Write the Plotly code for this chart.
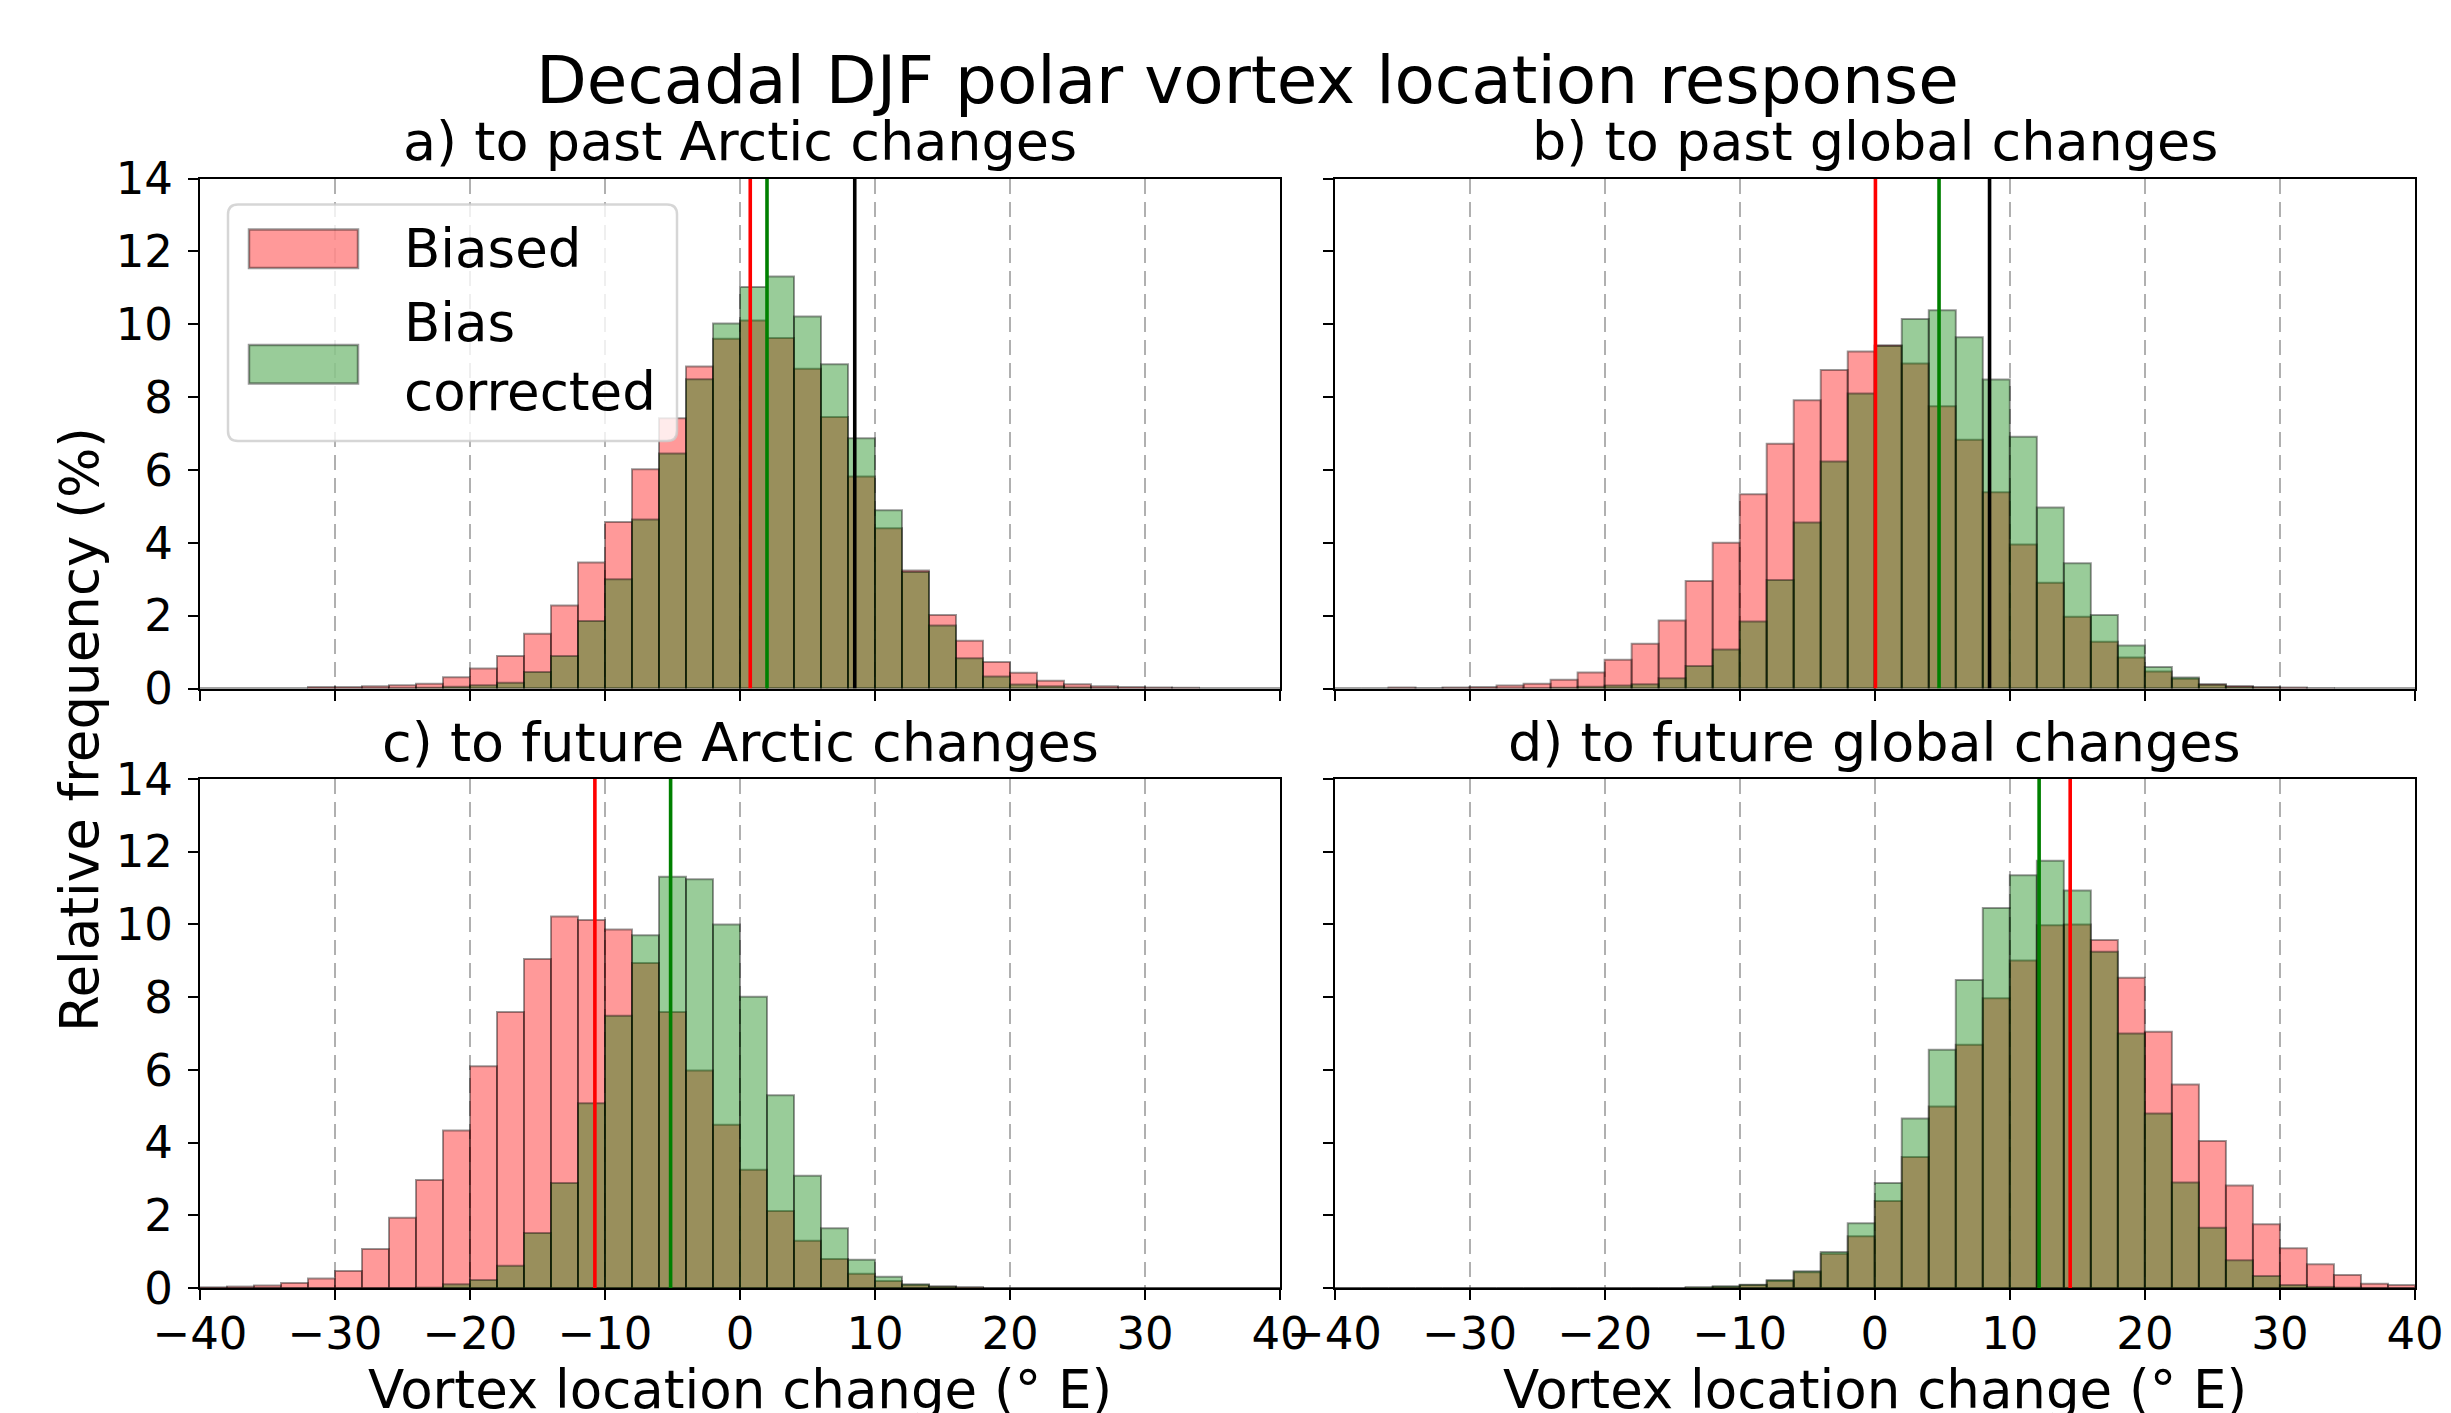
import plotly.graph_objects as go

# ---------------- data ----------------
bin_left = [-40, -38, -36, -34, -32, -30, -28, -26, -24, -22, -20, -18, -16, -14, -12, -10, -8, -6, -4, -2,
            0, 2, 4, 6, 8, 10, 12, 14, 16, 18, 20, 22, 24, 26, 28, 30, 32, 34, 36, 38]
bin_width = 2

a_biased = [0, 0, 0, 0, 0.04, 0.04, 0.06, 0.09, 0.13, 0.31, 0.55, 0.89, 1.50, 2.28, 3.46, 4.57, 6.02, 7.42, 8.84, 9.60,
            10.10, 9.62, 8.78, 7.45, 5.82, 4.40, 3.24, 2.02, 1.31, 0.73, 0.43, 0.21, 0.12, 0.06, 0.04, 0.03, 0.02, 0, 0, 0]
a_corrected = [0, 0, 0, 0, 0, 0, 0, 0.01, 0.02, 0.05, 0.09, 0.16, 0.45, 0.89, 1.85, 3.00, 4.64, 6.45, 8.49, 10.02,
               11.02, 11.31, 10.21, 8.90, 6.87, 4.89, 3.20, 1.73, 0.83, 0.33, 0.11, 0.06, 0.03, 0.01, 0, 0, 0, 0, 0, 0]

b_biased = [0, 0, 0.03, 0.01, 0.03, 0.04, 0.08, 0.13, 0.24, 0.44, 0.79, 1.23, 1.87, 2.95, 4.00, 5.33, 6.72, 7.91, 8.74, 9.25,
            9.42, 8.92, 7.75, 6.83, 5.39, 3.95, 2.90, 1.97, 1.28, 0.85, 0.47, 0.27, 0.12, 0.07, 0.04, 0.03, 0.01, 0, 0, 0]
b_corrected = [0, 0, 0, 0, 0, 0, 0, 0.01, 0.02, 0.05, 0.08, 0.12, 0.28, 0.62, 1.07, 1.84, 2.98, 4.56, 6.23, 8.10,
               9.40, 10.14, 10.38, 9.64, 8.48, 6.91, 4.97, 3.44, 2.02, 1.18, 0.59, 0.30, 0.10, 0.04, 0.02, 0, 0, 0, 0, 0]

c_biased = [0.02, 0.04, 0.07, 0.14, 0.26, 0.47, 1.07, 1.93, 2.97, 4.33, 6.10, 7.59, 9.05, 10.22, 10.12, 9.86, 8.94, 7.59, 5.98, 4.49,
            3.25, 2.12, 1.30, 0.80, 0.39, 0.19, 0.08, 0.04, 0.02, 0, 0, 0, 0, 0, 0, 0, 0, 0, 0, 0]
c_corrected = [0, 0, 0, 0, 0, 0, 0, 0, 0.01, 0.10, 0.22, 0.61, 1.51, 2.89, 5.08, 7.49, 9.70, 11.31, 11.24, 10.00,
               8.01, 5.30, 3.09, 1.64, 0.78, 0.31, 0.10, 0.04, 0.01, 0, 0, 0, 0, 0, 0, 0, 0, 0, 0, 0]

d_biased = [0, 0, 0, 0, 0, 0, 0, 0, 0, 0, 0, 0, 0, 0.01, 0.03, 0.08, 0.19, 0.43, 0.94, 1.42,
            2.39, 3.60, 4.99, 6.69, 7.97, 9.01, 9.98, 10.00, 9.57, 8.53, 7.05, 5.60, 4.04, 2.82, 1.75, 1.09, 0.65, 0.36, 0.12, 0.08]
d_corrected = [0, 0, 0, 0, 0, 0, 0, 0, 0, 0, 0, 0, 0, 0.02, 0.05, 0.09, 0.22, 0.46, 0.99, 1.78,
               2.89, 4.66, 6.55, 8.47, 10.45, 11.35, 11.75, 10.93, 9.25, 7.00, 4.80, 2.90, 1.66, 0.76, 0.33, 0.08, 0.03, 0.01, 0, 0]

# reference lines (deg E): biased mean, corrected mean, observed
a_lines = {"biased": 0.76, "corrected": 2.0, "observed": 8.5}
b_lines = {"biased": 0.05, "corrected": 4.76, "observed": 8.5}
c_lines = {"biased": -10.75, "corrected": -5.14}
d_lines = {"biased": 14.47, "corrected": 12.17}

panel_titles = ["a) to past Arctic changes", "b) to past global changes",
                "c) to future Arctic changes", "d) to future global changes"]
main_title = "Decadal DJF polar vortex location response"
x_label = "Vortex location change (° E)"
y_label = "Relative frequency (%)"
legend_labels = ["Biased", "Bias<br>corrected"]
x_ticks = [-40, -30, -20, -10, 0, 10, 20, 30, 40]
y_ticks = [0, 2, 4, 6, 8, 10, 12, 14]

# ---------------- styling ----------------
W, H = 2451, 1413
FONT = "DejaVu Sans"
RED_FILL = "rgba(255,0,0,0.4)"
GREEN_FILL = "rgba(0,128,0,0.4)"
EDGE = "rgba(0,0,0,0.4)"
line_colors = {"biased": "#ff0000", "corrected": "#008000", "observed": "#000000"}

xdom_left = [200 / W, 1280 / W]
xdom_right = [1334.5 / W, 2415 / W]
ydom_top = [1 - 688.5 / H, 1 - 178.5 / H]
ydom_bot = [1 - 1288 / H, 1 - 779 / H]

panels = [
    (a_biased, a_corrected, a_lines, xdom_left, ydom_top, False, True),
    (b_biased, b_corrected, b_lines, xdom_right, ydom_top, False, False),
    (c_biased, c_corrected, c_lines, xdom_left, ydom_bot, True, True),
    (d_biased, d_corrected, d_lines, xdom_right, ydom_bot, True, False),
]

centers = [b + bin_width / 2 for b in bin_left]

fig = go.Figure()
layout = dict(
    width=W, height=H, margin=dict(l=0, r=0, t=0, b=0, autoexpand=False),
    paper_bgcolor="white", plot_bgcolor="white",
    barmode="overlay", showlegend=False,
    font=dict(family=FONT, color="black", size=45),
)

for i, (biased, corrected, lines, xd, yd, xlab, ylab) in enumerate(panels):
    n = i + 1
    xa = "x" if n == 1 else f"x{n}"
    ya = "y" if n == 1 else f"y{n}"
    fig.add_trace(go.Bar(x=centers, y=biased, width=bin_width, xaxis=xa, yaxis=ya,
                         marker=dict(color=RED_FILL, line=dict(color=EDGE, width=2)),
                         name="Biased"))
    fig.add_trace(go.Bar(x=centers, y=corrected, width=bin_width, xaxis=xa, yaxis=ya,
                         marker=dict(color=GREEN_FILL, line=dict(color=EDGE, width=2)),
                         name="Bias corrected"))
    for key, val in lines.items():
        fig.add_trace(go.Scatter(x=[val, val], y=[y_ticks[0], y_ticks[-1]], mode="lines",
                                 xaxis=xa, yaxis=ya, line=dict(color=line_colors[key], width=3.6),
                                 hoverinfo="skip"))
    xkey = "xaxis" if n == 1 else f"xaxis{n}"
    ykey = "yaxis" if n == 1 else f"yaxis{n}"
    layout[xkey] = dict(
        domain=xd, anchor=ya, range=[x_ticks[0], x_ticks[-1]], tickvals=x_ticks,
        showticklabels=xlab, ticks="outside", ticklen=10, tickwidth=2, tickcolor="black",
        showline=True, linecolor="black", linewidth=2, mirror=True,
        showgrid=True, gridcolor="#b0b0b0", gridwidth=1.6, griddash="15px,8px",
        zeroline=False, tickfont=dict(size=45, family=FONT, color="black"),
        ticklabelstandoff=-5, automargin=False,
    )
    layout[ykey] = dict(
        domain=yd, anchor=xa, range=[y_ticks[0], y_ticks[-1]], tickvals=y_ticks,
        showticklabels=ylab, ticks="outside", ticklen=10, tickwidth=2, tickcolor="black",
        showline=True, linecolor="black", linewidth=2, mirror=True,
        showgrid=False, zeroline=False, tickfont=dict(size=45, family=FONT, color="black"),
        ticklabelstandoff=6, automargin=False,
    )

annotations = []
# main title
annotations.append(dict(text=main_title, x=1247 / W, y=1 - 80 / H, xref="paper", yref="paper",
                        xanchor="center", yanchor="middle", showarrow=False,
                        font=dict(size=66, family=FONT, color="black")))
# panel titles
for i, (biased, corrected, lines, xd, yd, xlab, ylab) in enumerate(panels):
    annotations.append(dict(text=panel_titles[i], x=(xd[0] + xd[1]) / 2, y=yd[1], xref="paper", yref="paper",
                            xanchor="center", yanchor="bottom", yshift=3, showarrow=False,
                            font=dict(size=54, family=FONT, color="black")))
    if xlab:
        annotations.append(dict(text=x_label, x=(xd[0] + xd[1]) / 2, y=1 - 1389 / H, xref="paper", yref="paper",
                                xanchor="center", yanchor="middle", showarrow=False,
                                font=dict(size=53, family=FONT, color="black")))
# y label
annotations.append(dict(text=y_label, x=80 / W, y=1 - 730 / H, xref="paper", yref="paper",
                        xanchor="center", yanchor="middle", textangle=-90, showarrow=False,
                        font=dict(size=53, family=FONT, color="black")))

# legend (drawn in panel a)
lx0, lx1 = 228 / W, 677 / W
ly0, ly1 = 1 - 441 / H, 1 - 204.5 / H
rx, ry = 10 / W, 10 / H
legend_path = (f"M{lx0 + rx},{ly1} L{lx1 - rx},{ly1} Q{lx1},{ly1} {lx1},{ly1 - ry} "
               f"L{lx1},{ly0 + ry} Q{lx1},{ly0} {lx1 - rx},{ly0} L{lx0 + rx},{ly0} "
               f"Q{lx0},{ly0} {lx0},{ly0 + ry} L{lx0},{ly1 - ry} Q{lx0},{ly1} {lx0 + rx},{ly1} Z")
shapes = [dict(type="path", path=legend_path, xref="paper", yref="paper",
               fillcolor="rgba(255,255,255,0.8)", line=dict(color="rgba(204,204,204,0.8)", width=2.5),
               layer="above")]
patch_rows = [(229.5, 268), (345, 383.5)]
patch_fills = [RED_FILL, GREEN_FILL]
label_centers = [248.5, 357]
for (t, b), fill, lab, cy in zip(patch_rows, patch_fills, legend_labels, label_centers):
    shapes.append(dict(type="rect", xref="paper", yref="paper", x0=249 / W, x1=358 / W,
                       y0=1 - b / H, y1=1 - t / H, fillcolor=fill, line=dict(color=EDGE, width=2.5),
                       layer="above"))
    annotations.append(dict(text=lab, x=402 / W, y=1 - cy / H, xref="paper", yref="paper",
                            xanchor="left", yanchor="middle", align="left", showarrow=False,
                            font=dict(size=53, family=FONT, color="black")))

layout["annotations"] = annotations
layout["shapes"] = shapes
fig.update_layout(**layout)

fig.write_html("out.html", config={"displayModeBar": False},
               post_script="document.body.style.margin='0';document.body.style.overflow='hidden';")
